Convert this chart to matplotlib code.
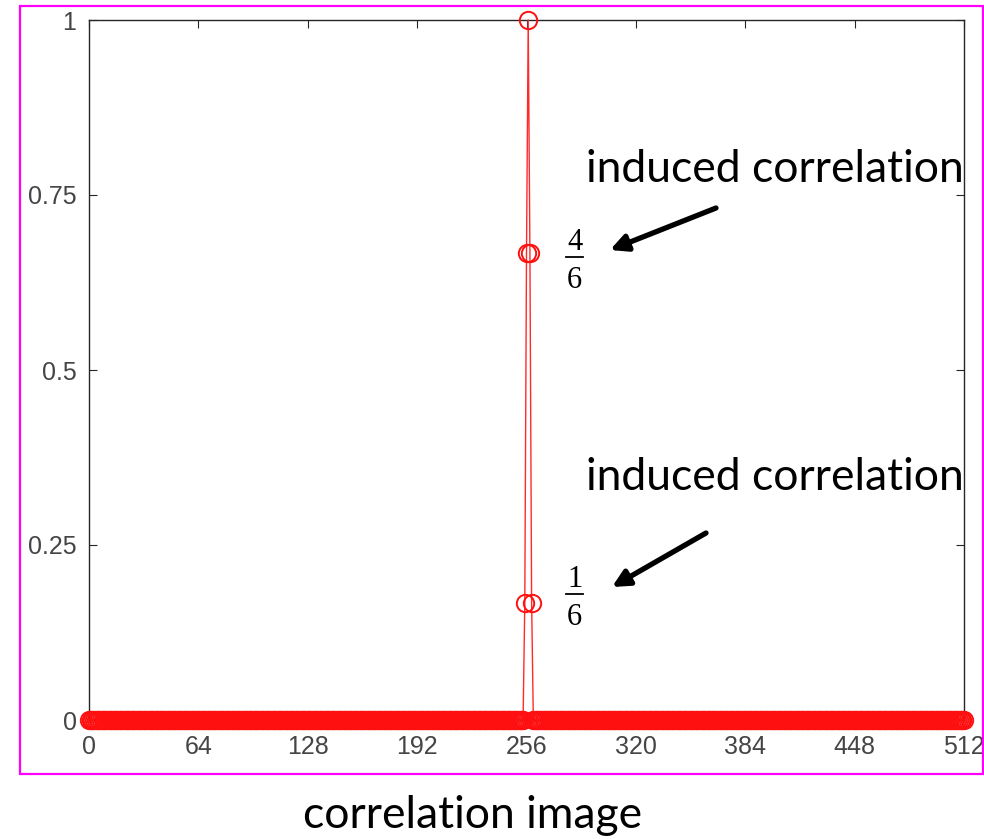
import numpy as np
import matplotlib
matplotlib.use("Agg")
import matplotlib.pyplot as plt
from matplotlib.patches import Rectangle
from matplotlib.lines import Line2D

# Data
n_points = 513
peak_index = [255, 256, 257, 258, 259]
peak_values = [1/6, 4/6, 1.0, 4/6, 1/6]
x_ticks = [0, 64, 128, 192, 256, 320, 384, 448, 512]
y_ticks = [0, 0.25, 0.5, 0.75, 1]
y_tick_labels = ["0", "0.25", "0.5", "0.75", "1"]

x = np.arange(n_points)
y = np.zeros(n_points)
for i, v in zip(peak_index, peak_values):
    y[i] = v

W, H = 984, 839
fig = plt.figure(figsize=(W/100, H/100), dpi=100)
ax = fig.add_axes([89/W, 1-720/H, 875/W, 700/H])

ax.plot(x, y, '-', color='#ff2a2a', lw=1.0, marker='o', ms=12.5,
        mfc='none', mec='#ff1010', mew=1.4, clip_on=False, zorder=3)

ax.set_xlim(0, 512)
ax.set_ylim(0, 1)
ax.set_xticks(x_ticks)
ax.set_xticklabels([str(t) for t in x_ticks])
ax.set_yticks(y_ticks)
ax.set_yticklabels(y_tick_labels)
ax.tick_params(direction='in', top=True, right=True, length=6, width=0.8,
               colors='#262626', labelsize=18)
ax.tick_params(axis='x', pad=11)
ax.tick_params(axis='y', pad=9)
for lab in ax.get_xticklabels() + ax.get_yticklabels():
    lab.set_family('Liberation Sans')
    lab.set_color('#454545')
for s in ax.spines.values():
    s.set_color('#262626')
    s.set_linewidth(1.0)

def px(xp, yp):
    return xp / W, 1 - yp / H

# Magenta frame
fig.patches.append(Rectangle(px(20, 774), 963/W, 768/H,
                             transform=fig.transFigure, fill=False,
                             edgecolor='#ff00ff', lw=1.6))

# Annotations
for yc in (170, 477):
    fig.text(*px(586, yc), "induced correlation", fontsize=32,
             family='Lato', va='center', ha='left', color='black')

def frac(num, den, xc, ybar):
    fig.text(*px(xc, ybar - 7), num, fontsize=22, family='Liberation Serif',
             ha='center', va='baseline')
    fig.text(*px(xc, ybar + 31), den, fontsize=22, family='Liberation Serif',
             ha='center', va='baseline')
    fig.add_artist(Line2D([566/W, 583/W], [1-ybar/H, 1-ybar/H],
                          transform=fig.transFigure, color='black', lw=1.3))

frac("4", "6", 574.5, 257)
frac("1", "6", 574.5, 594)

for (x0, y0), (x1, y1) in [((716, 208), (610, 250)), ((706, 533), (612, 587))]:
    ax.annotate("", xy=px(x1, y1), xytext=px(x0, y0),
                xycoords='figure fraction', textcoords='figure fraction',
                arrowprops=dict(arrowstyle='-|>,head_length=1.0,head_width=0.5',
                                color='black', lw=3.8, shrinkA=0, shrinkB=0))

fig.text(*px(473, 816), "correlation image", fontsize=32,
         family='Lato', va='center', ha='center', color='black')

fig.savefig("out.png", dpi=100)
